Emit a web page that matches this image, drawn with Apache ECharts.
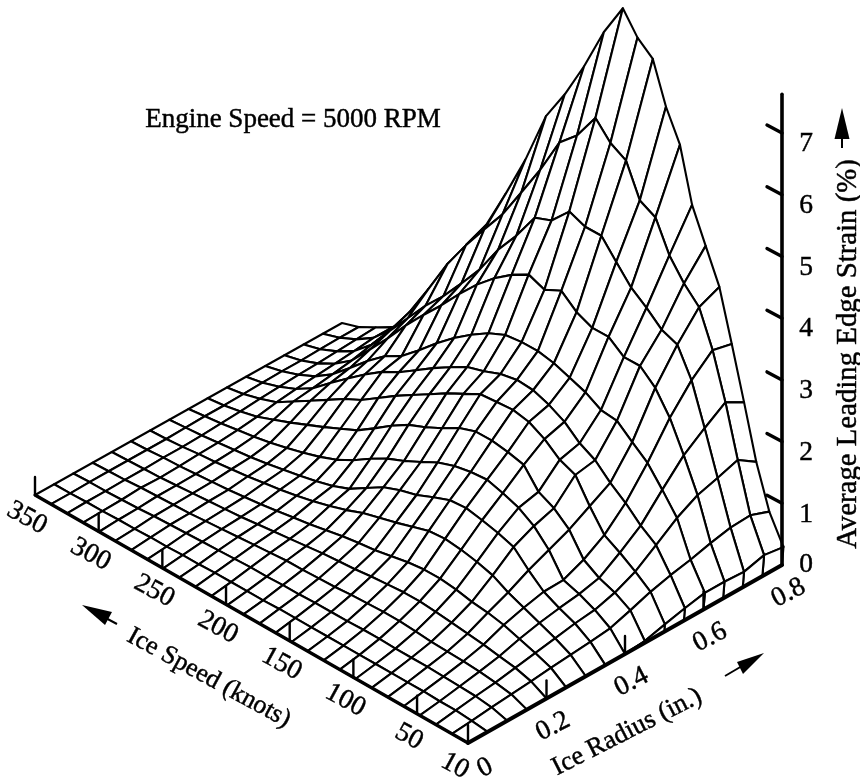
<!DOCTYPE html>
<html><head><meta charset="utf-8">
<style>html,body{margin:0;padding:0;background:#fff}#c{width:860px;height:784px}</style>
<script src="https://cdn.jsdelivr.net/npm/echarts@6/dist/echarts.min.js"></script>
</head><body><div id="c"></div>
<script>
// Grid of the surface
const speeds = [10,22.6,35.2,47.8,60.4,73,85.6,98.1,110.7,123.3,135.9,148.5,161.1,173.7,186.3,198.9,211.5,224.1,236.7,249.3,261.9,274.4,287,299.6,312.2,324.8,337.4,350];
const radii = [0,0.05,0.1,0.15,0.2,0.25,0.3,0.35,0.4,0.45,0.5,0.55,0.6,0.65,0.7,0.75,0.8];
// Average leading edge strain (%), one row per speed, one column per radius
const r00=[0,0,0,0,0,0,0,0,0,.03,.12,.2,.27,.27,.25,.34,.29];
const r01=[0,.03,.07,.1,.13,.17,.2,.23,.27,.38,.5,.59,.66,.75,.82,.84,.72];
const r02=[0,.05,.1,.14,.2,.26,.32,.38,.42,.52,.68,.93,1.19,1.38,1.48,1.59,1.38];
const r03=[0,.05,.11,.17,.24,.34,.42,.48,.53,.61,.84,1.1,1.5,1.88,2.14,2.38,2.2];
const r04=[0,.06,.12,.19,.28,.42,.52,.6,.61,.76,.98,1.32,1.79,2.34,2.77,3.08,3];
const r05=[0,.06,.13,.2,.31,.47,.62,.8,.95,1.1,1.3,1.5,1.98,2.68,3.2,3.63,3.78];
const r06=[0,.06,.13,.21,.34,.5,.75,1.03,1.19,1.3,1.66,1.72,2.18,2.89,3.3,3.87,4.3];
const r07=[0,.06,.13,.23,.37,.55,.82,1.11,1.34,1.42,1.76,1.85,2.21,2.89,3.51,4.18,4.82];
const r08=[0,.06,.14,.25,.39,.58,.87,1.17,1.43,1.71,1.95,2.05,2.35,3.07,3.69,4.65,5.65];
const r09=[0,.06,.14,.25,.39,.58,.9,1.22,1.5,1.77,2.08,2.18,2.44,3.07,3.96,4.78,6.12];
const r10=[0,.06,.13,.24,.37,.55,.88,1.2,1.48,1.81,2.13,2.27,2.53,3.18,4.24,5.28,6.75];
const r11=[0,.06,.13,.23,.35,.5,.8,1.1,1.43,1.81,2.11,2.29,2.58,3.38,4.24,5.42,6.95];
const r12=[0,.06,.13,.21,.32,.45,.72,.99,1.34,1.72,2.09,2.24,2.58,3.25,4.34,5.68,7.28];
const r13=[0,.06,.12,.2,.3,.42,.65,.92,1.2,1.57,1.95,2.14,2.55,3.35,4.05,5.25,6.75];
const r14=[0,.05,.12,.19,.28,.38,.58,.82,1.07,1.44,1.81,2.06,2.43,3.2,3.95,4.99,6.05];
const r15=[0,.05,.11,.19,.25,.33,.48,.66,.96,1.33,1.65,1.91,2.26,3,3.51,4.4,5.45];
const r16=[0,.05,.11,.17,.22,.28,.4,.5,.81,1.17,1.49,1.75,2.06,2.75,3.14,3.89,4.95];
const r17=[0,.05,.1,.15,.19,.24,.33,.4,.64,.98,1.33,1.57,1.83,2.45,2.67,3.39,4.1];
const r18=[0,.04,.09,.13,.16,.2,.27,.33,.5,.8,1.15,1.39,1.57,2.12,2.3,3,3.4];
const r19=[0,.04,.08,.11,.13,.16,.22,.27,.4,.68,.97,1.25,1.33,1.82,1.95,2.6,2.75];
const r20=[0,.03,.07,.09,.11,.13,.18,.22,.32,.56,.84,1.06,1.18,1.5,1.65,2.15,2.22];
const r21=[0,.03,.06,.07,.09,.1,.14,.17,.25,.45,.68,.85,.96,1.15,1.3,1.6,1.65];
const r22=[0,.02,.05,.06,.07,.08,.11,.13,.19,.34,.52,.63,.7,.82,.95,1.08,1.1];
const r23=[0,.02,.03,.05,.05,.06,.08,.1,.14,.24,.36,.4,.45,.5,.58,.65,.62];
const r24=[0,.01,.02,.04,.03,.04,.06,.07,.1,.14,.2,.24,.27,.3,.33,.37,.37];
const r25=[0,.01,.01,.02,.02,.03,.03,.04,.06,.08,.11,.13,.15,.16,.18,.2,.22];
const r26=[0,0,.01,.01,.01,.01,.01,.02,.03,.03,.04,.05,.06,.06,.07,.08,.08];
const r27=[0,0,0,0,0,0,0,0,0,0,0,0,0,0,0,0,0];
const strain=[r00,r01,r02,r03,r04,r05,r06,r07,r08,r09,r10,r11,r12,r13,r14,r15,r16,r17,r18,r19,r20,r21,r22,r23,r24,r25,r26,r27];
// Axis ticks
const speedTicks=[10,50,100,150,200,250,300,350];
const radiusTicks=[0,0.2,0.4,0.6,0.8];
const strainTicks=[0,1,2,3,4,5,6,7];
const strainAxisTop=7.63;
const titleText='Engine Speed = 5000 RPM';
const speedTitle='Ice Speed (knots)';
const radiusTitle='Ice Radius (in.)';
const strainTitle='Average Leading Edge Strain (%)';

// View of the box: where the floor corners land, and how height moves a point
const P={front:[468,743],left:[35,495],right:[782,565],back:[342,323],zy:61.7,lean:5};
function project(s,r,z,noLean){
  const t=(s-10)/340,u=r/0.8;
  const x=(1-t)*(1-u)*P.front[0]+t*(1-u)*P.left[0]+(1-t)*u*P.right[0]+t*u*P.back[0];
  const y=(1-t)*(1-u)*P.front[1]+t*(1-u)*P.left[1]+(1-t)*u*P.right[1]+t*u*P.back[1];
  return [x+(noLean?0:P.lean*z),y-P.zy*z];
}
const cells=[];
for(let i=speeds.length-2;i>=0;i--){
  for(let j=radii.length-2;j>=0;j--){
    cells.push([speeds[i],speeds[i+1],radii[j],radii[j+1],strain[i][j],strain[i][j+1],strain[i+1][j],strain[i+1][j+1]]);
  }
}
const skirt=[];
for(let j=radii.length-2;j>=0;j--) skirt.push([radii[j],radii[j+1],strain[0][j],strain[0][j+1]]);

const FONT='"Liberation Serif","Times New Roman",serif';
const GRID=2.1;
const ROT=Math.PI/180*28.6;
const ROT2=Math.PI/180*27;
const txt=(t,size)=>({text:t,font:size+'px '+FONT,fill:'#000',stroke:'#000',lineWidth:0.45,align:'center',verticalAlign:'middle'});
const tickItems=[];
speedTicks.forEach(s=>tickItems.push(['s',s]));
radiusTicks.forEach(r=>tickItems.push(['r',r]));
strainTicks.forEach(z=>tickItems.push(['z',z]));

const chart=echarts.init(document.getElementById('c'),null,{renderer:'canvas'});
chart.setOption({
  animation:false,backgroundColor:'#fff',
  grid:{left:0,right:0,top:0,bottom:0},
  xAxis:{type:'value',min:0,max:860,show:false},
  yAxis:{type:'value',min:0,max:784,inverse:true,show:false},
  graphic:{elements:[
    {type:'text',x:293,y:120,style:txt(titleText,27)},
    {type:'text',x:848,y:354,rotation:Math.PI/2,style:txt(strainTitle,28.8)},
    {type:'text',x:209,y:678,rotation:-ROT,style:txt(speedTitle,26)},
    {type:'text',x:627,y:732,rotation:ROT2,style:txt(radiusTitle,26.5)},
    {type:'line',shape:{x1:842,y1:148,x2:842,y2:130},style:{stroke:'#000',lineWidth:2}},
    {type:'polygon',shape:{points:[[842,108],[849.5,139],[834.5,139]]},style:{fill:'#000'}},
    {type:'line',shape:{x1:117,y1:624,x2:100,y2:615},style:{stroke:'#000',lineWidth:2}},
    {type:'polygon',shape:{points:[[82,605],[112,612],[105,625]]},style:{fill:'#000'}},
    {type:'line',shape:{x1:725,y1:676,x2:742,y2:666},style:{stroke:'#000',lineWidth:2}},
    {type:'polygon',shape:{points:[[764,653],[737,662],[743,674]]},style:{fill:'#000'}}
  ]},
  series:[
    {type:'custom',coordinateSystem:'cartesian2d',clip:false,silent:true,progressive:0,data:cells,
     renderItem(p,api){
       const [s1,s2,r1,r2,a,b,c,d]=[0,1,2,3,4,5,6,7].map(k=>api.value(k));
       const pts=[project(s1,r1,a),project(s1,r2,b),project(s2,r2,d),project(s2,r1,c)].map(q=>api.coord(q));
       return {type:'polygon',shape:{points:pts},style:{fill:'#fff',stroke:'#000',lineWidth:GRID,lineJoin:'round'}};
     }},
    {type:'custom',coordinateSystem:'cartesian2d',clip:false,silent:true,progressive:0,data:skirt,z:3,
     renderItem(p,api){
       const [r1,r2,a,b]=[0,1,2,3].map(k=>api.value(k));
       const s=speeds[0];
       const pts=[project(s,r1,0,true),project(s,r2,0,true),project(s,r2,b),project(s,r1,a)].map(q=>api.coord(q));
       return {type:'polygon',shape:{points:pts},style:{fill:'#fff',stroke:'#000',lineWidth:GRID}};
     }},
    {type:'custom',coordinateSystem:'cartesian2d',clip:false,silent:true,progressive:0,z:4,
     data:[[0]],
     renderItem(p,api){
       const ln=(a,b,w)=>({type:'line',shape:{x1:a[0],y1:a[1],x2:b[0],y2:b[1]},style:{stroke:'#000',lineWidth:w,lineCap:'round'}});
       const c=(s,r,z)=>api.coord(project(s,r,z,true));
       const ch=[];
       ch.push(ln(c(10,0,0),c(350,0,0),3.2));
       ch.push(ln(c(10,0,0),c(10,.8,0),4));
       ch.push(ln(c(10,.8,0),c(10,.8,strainAxisTop),3.6));
       return {type:'group',children:ch};
     }},
    {type:'custom',coordinateSystem:'cartesian2d',clip:false,silent:true,progressive:0,z:5,data:tickItems,
     renderItem(p,api){
       const it=tickItems[p.dataIndex];
       const ln=(a,b,w)=>({type:'line',shape:{x1:a[0],y1:a[1],x2:b[0],y2:b[1]},style:{stroke:'#000',lineWidth:w,lineCap:'round'}});
       const tx=(t,x,y,rot)=>({type:'text',x:x,y:y,rotation:rot,style:txt(t,27.5)});
       const ch=[];
       if(it[0]==='s'){
         const q=api.coord(project(it[1],0,0,true));
         ch.push(ln(q,[q[0],q[1]-18],2.4));
         ch.push(tx(String(it[1]),q[0]-8+(it[1]===10?-5:0),q[1]+23,-ROT));
       }else if(it[0]==='r'){
         const q=api.coord(project(10,it[1],0,true));
         if(it[1]>0&&it[1]<0.8) ch.push(ln(q,[q[0],q[1]-18],2.4));
         ch.push(tx(it[1]===0?'0':it[1].toFixed(1),q[0]+(it[1]===0?17:6.5),q[1]+(it[1]===0?25:28),ROT2));
       }else{
         const q=api.coord(project(10,.8,it[1],true));
         if(it[1]>0) ch.push(ln(q,[q[0]-15,q[1]-8],3.4));
         ch.push(tx(String(it[1]),q[0]+24,q[1]+(it[1]===0?0:11),0));
       }
       return {type:'group',children:ch};
     }}
  ]
});
</script></body></html>
